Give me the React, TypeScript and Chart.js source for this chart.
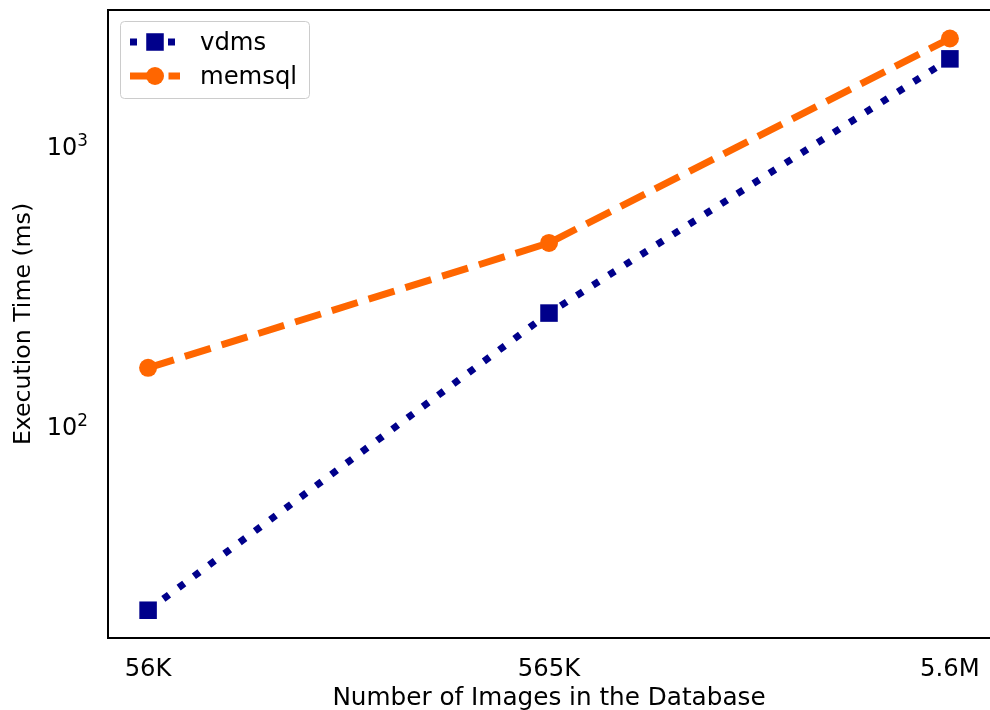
import { useEffect, useRef } from "react";
import { Chart, registerables } from "chart.js";

Chart.register(...registerables);

// Dataset sizes on the x axis and measured execution times (ms)
const categories = ["56K", "565K", "5.6M"];
const vdmsMs = [21.8, 251, 2030];
const memsqlMs = [160, 447, 2400];
const seriesNames = ["vdms", "memsql"];

// Log axis: only decade ticks are labelled, as base + exponent
const yTickValues = [100, 1000];
const yTickBase = ["10", "10"];
const yTickExponents = ["2", "3"];
const yMin = 17.35;
const yMax = 3034;

const FONT = "'DejaVu Sans', 'Liberation Sans', sans-serif";
const BLUE = "#00008b";
const ORANGE = "#ff6600";

const WIDTH = 990;
const HEIGHT = 710;

function drawMarker(ctx: CanvasRenderingContext2D, style: string, x: number, y: number, r: number, color: string) {
  ctx.save();
  ctx.fillStyle = color;
  ctx.beginPath();
  if (style === "rect") {
    const half = r * Math.SQRT1_2;
    ctx.rect(x - half, y - half, half * 2, half * 2);
  } else {
    ctx.arc(x, y, r, 0, Math.PI * 2);
  }
  ctx.fill();
  ctx.restore();
}

// Top spine, power-of-ten tick labels and a boxed legend
const framePlugin = {
  id: "frameAndLegend",
  afterDraw(chart: any) {
    const { ctx, chartArea } = chart;
    ctx.save();
    ctx.strokeStyle = "#000";
    ctx.lineWidth = 2;
    ctx.beginPath();
    ctx.moveTo(chartArea.left - 1, chartArea.top);
    ctx.lineTo(chartArea.right, chartArea.top);
    ctx.stroke();

    // y tick labels with raised exponent
    const yScale = chart.scales.y;
    ctx.fillStyle = "#000";
    ctx.textBaseline = "alphabetic";
    ctx.textAlign = "left";
    yTickValues.forEach((v, i) => {
      const py = yScale.getPixelForValue(v);
      ctx.font = `24px ${FONT}`;
      const wBase = ctx.measureText(yTickBase[i]).width;
      ctx.font = `16.8px ${FONT}`;
      const wExp = ctx.measureText(yTickExponents[i]).width;
      const right = chartArea.left - 20;
      const x0 = right - wBase - wExp;
      ctx.font = `24px ${FONT}`;
      ctx.fillText(yTickBase[i], x0, py + 10.5);
      ctx.font = `16.8px ${FONT}`;
      ctx.fillText(yTickExponents[i], x0 + wBase, py + 1.5);
    });

    // legend frame
    const bx = 120.5, by = 21.5, bw = 189, bh = 77, rad = 4;
    ctx.beginPath();
    ctx.moveTo(bx + rad, by);
    ctx.lineTo(bx + bw - rad, by);
    ctx.arcTo(bx + bw, by, bx + bw, by + rad, rad);
    ctx.lineTo(bx + bw, by + bh - rad);
    ctx.arcTo(bx + bw, by + bh, bx + bw - rad, by + bh, rad);
    ctx.lineTo(bx + rad, by + bh);
    ctx.arcTo(bx, by + bh, bx, by + bh - rad, rad);
    ctx.lineTo(bx, by + rad);
    ctx.arcTo(bx, by, bx + rad, by, rad);
    ctx.closePath();
    ctx.fillStyle = "rgba(255,255,255,0.8)";
    ctx.fill();
    ctx.strokeStyle = "#cccccc";
    ctx.lineWidth = 1;
    ctx.stroke();

    const rows = [42, 76];
    chart.data.datasets.forEach((ds: any, i: number) => {
      const y = rows[i];
      ctx.save();
      ctx.strokeStyle = ds.borderColor;
      ctx.lineWidth = ds.borderWidth;
      ctx.lineCap = "butt";
      ctx.setLineDash(ds.borderDash);
      ctx.beginPath();
      ctx.moveTo(130, y);
      ctx.lineTo(180, y);
      ctx.stroke();
      ctx.restore();
      drawMarker(ctx, ds.pointStyle, 155, y, ds.pointRadius, ds.pointBackgroundColor);
      ctx.fillStyle = "#000";
      ctx.font = `24.3px ${FONT}`;
      ctx.textAlign = "left";
      ctx.textBaseline = "middle";
      ctx.fillText(ds.label, 200, y + 2);
    });
    ctx.restore();
  },
};

export default function App() {
  const canvasRef = useRef<HTMLCanvasElement | null>(null);

  useEffect(() => {
    const canvas = canvasRef.current;
    if (!canvas) return;
    const chart = new Chart(canvas, {
      type: "line",
      data: {
        datasets: [
          {
            label: seriesNames[0],
            data: vdmsMs.map((v, i) => ({ x: i, y: v })),
            borderColor: BLUE,
            backgroundColor: BLUE,
            borderWidth: 7,
            borderDash: [7, 12],
            borderCapStyle: "butt",
            pointStyle: "rect",
            pointRadius: 12.4,
            pointBackgroundColor: BLUE,
            pointBorderWidth: 0,
            order: 0,
            tension: 0,
          },
          {
            label: seriesNames[1],
            data: memsqlMs.map((v, i) => ({ x: i, y: v })),
            borderColor: ORANGE,
            backgroundColor: ORANGE,
            borderWidth: 7,
            borderDash: [27, 11.5],
            borderCapStyle: "butt",
            pointStyle: "circle",
            pointRadius: 9,
            pointBackgroundColor: ORANGE,
            pointBorderWidth: 0,
            order: -1,
            tension: 0,
          },
        ],
      },
      options: {
        animation: false,
        responsive: false,
        devicePixelRatio: 1,
        layout: { autoPadding: false, padding: { top: 10, right: 0, left: 0, bottom: 0 } },
        plugins: {
          legend: { display: false },
          tooltip: { enabled: false },
        },
        scales: {
          x: {
            type: "linear",
            min: -0.1,
            max: 2.1,
            afterBuildTicks: (scale: any) => {
              scale.ticks = categories.map((_, i) => ({ value: i }));
            },
            afterFit: (scale: any) => {
              scale.height = 72;
              scale.paddingLeft = 0;
              scale.paddingRight = 0;
              scale.paddingTop = 0;
              scale.paddingBottom = 0;
            },
            grid: { display: false, drawTicks: false },
            border: { display: true, color: "#000", width: 2 },
            ticks: {
              padding: 17,
              color: "#000",
              font: { family: FONT, size: 24.3 },
              maxRotation: 0,
              autoSkip: false,
              callback: (v: any) => categories[Math.round(Number(v))] ?? "",
            },
            title: {
              display: true,
              text: "Number of Images in the Database",
              color: "#000",
              font: { family: FONT, size: 24.7 },
              padding: { top: 0, bottom: -3 },
            },
          },
          y: {
            type: "logarithmic",
            min: yMin,
            max: yMax,
            afterBuildTicks: (scale: any) => {
              scale.ticks = yTickValues.map((v) => ({ value: v }));
            },
            afterFit: (scale: any) => {
              scale.width = 108;
              scale.paddingLeft = 0;
              scale.paddingRight = 0;
              scale.paddingTop = 0;
              scale.paddingBottom = 0;
            },
            grid: { display: false, drawTicks: false },
            border: { display: true, color: "#000", width: 2 },
            ticks: { display: false },
            title: {
              display: true,
              text: "Execution Time (ms)",
              color: "#000",
              font: { family: FONT, size: 23.6 },
              padding: { top: 10, bottom: 0 },
            },
          },
        },
      },
      plugins: [framePlugin],
    } as any);
    return () => chart.destroy();
  }, []);

  return (
    <div style={{ position: "fixed", left: 0, top: 0, width: WIDTH, height: HEIGHT, background: "#fff" }}>
      <canvas ref={canvasRef} width={WIDTH} height={HEIGHT} style={{ display: "block" }} />
    </div>
  );
}
